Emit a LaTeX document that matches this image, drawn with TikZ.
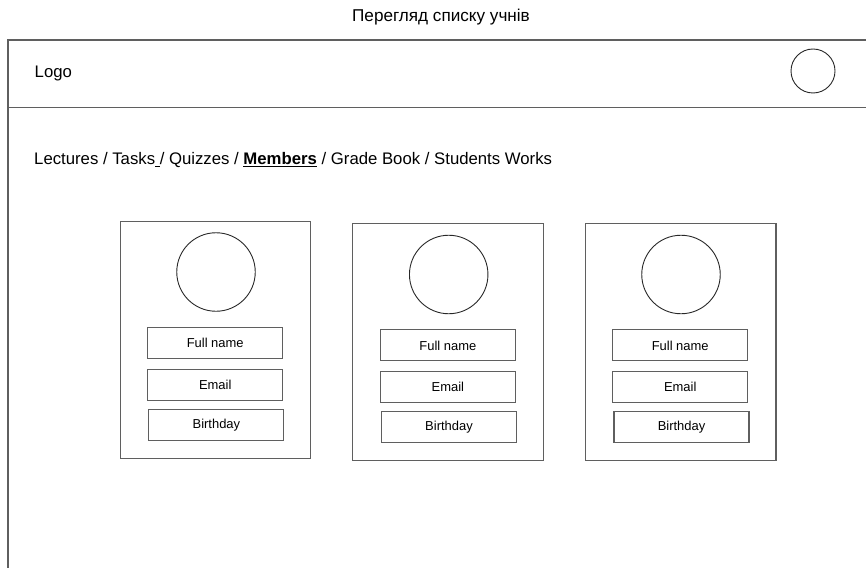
\documentclass[tikz,border=0pt]{standalone}
\usepackage{fontspec}
\setmainfont{Liberation Sans}
\definecolor{frameline}{RGB}{95,95,95}
\definecolor{ringline}{RGB}{40,40,40}
\tikzset{
  big/.style={font=\fontsize{16.8}{19}\selectfont},
  small/.style={font=\fontsize{13}{15}\selectfont},
  card/.style={draw=frameline, line width=1.1bp, minimum width=190.5bp, minimum height=237bp, inner sep=0pt},
  avatar/.style={circle, draw=ringline, line width=0.9bp, minimum size=78.5bp, inner sep=0pt},
  field/.style={draw=frameline, line width=1.1bp, minimum width=135bp, minimum height=31bp, inner sep=0pt, small},
}
\begin{document}
\begin{tikzpicture}[x=1bp, y=-1bp]
  \useasboundingbox (0,0) rectangle (866,568);
  \clip (0,0) rectangle (866,568);

  % page title
  \node[font=\fontsize{17.2}{19}\selectfont] (title) at (441,17.5) {Перегляд списку учнів};

  % page frame with header bar
  \draw[frameline, line width=1.3bp] (872,40) -- (8,40) -- (8,575);
  \draw[frameline, line width=1.3bp] (8,107.5) -- (872,107.5);
  \node[big, anchor=west, inner sep=0pt] (logo) at (34.5,73) {Logo};
  \node[circle, draw=ringline, line width=0.9bp, minimum size=44bp, inner sep=0pt] (user) at (813,71) {};

  % navigation
  \node[big, anchor=west, inner sep=0pt] (nav) at (34,160.5)
    {Lectures / Tasks\underline{\ }/ Quizzes / \underline{\textbf{Members}} / Grade Book / Students Works};

  % member cards
  \node[card] (c1) at (215.4,339.9) {};
  \node[avatar] (a1) at (216,272) {};
  \node[field] (n1) at (215.2,343) {Full name};
  \node[field] (e1) at (215.2,384.7) {Email};
  \node[field] (b1) at (216.4,425.4) {Birthday};

  \node[card] (c2) at (447.9,342) {};
  \node[avatar] (a2) at (448.7,274.5) {};
  \node[field] (n2) at (447.9,345.4) {Full name};
  \node[field] (e2) at (447.9,386.8) {Email};
  \node[field] (b2) at (449,427.2) {Birthday};

  \node[card] (c3) at (680.7,342) {};
  \node[avatar] (a3) at (681,274.5) {};
  \node[field] (n3) at (680.2,345.4) {Full name};
  \node[field] (e3) at (680.2,386.8) {Email};
  \node[field] (b3) at (681.5,427.2) {Birthday};
\end{tikzpicture}
\end{document}
